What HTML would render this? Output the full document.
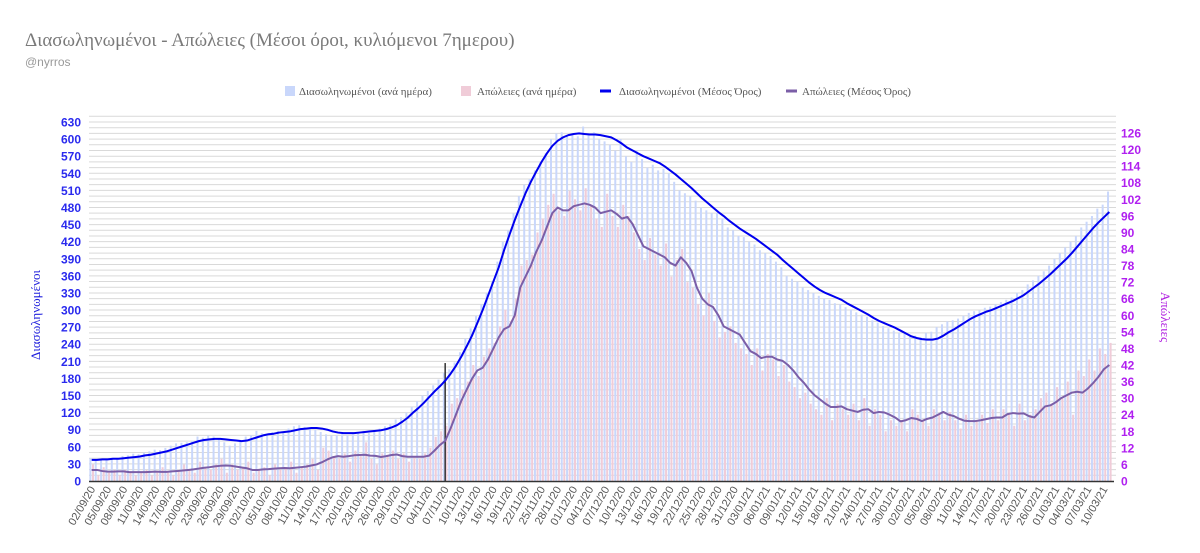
<!DOCTYPE html>
<html><head><meta charset="utf-8">
<style>
html,body{margin:0;padding:0;background:#fff;}
body{width:1200px;height:553px;overflow:hidden;position:relative;}
svg{position:absolute;left:0;top:0;}
</style></head>
<body>
<svg id="chart" width="1200" height="553" viewBox="0 0 1200 553" xmlns="http://www.w3.org/2000/svg">
  <text x="25" y="46" font-family="Liberation Serif, serif" font-size="19" fill="#7a7a7a">Διασωληνωμένοι - Απώλειες (Μέσοι όροι, κυλιόμενοι 7ημερου)</text>
  <text x="25" y="66" font-family="Liberation Sans, sans-serif" font-size="12" fill="#999">@nyrros</text>
  <g font-family="Liberation Serif, serif" font-size="11" fill="#555">
    <g><rect x="285" y="86" width="10" height="10" fill="#c9d7fb"/><text x="299" y="95">Διασωληνωμένοι (ανά ημέρα)</text></g>
    <g><rect x="461" y="86" width="10" height="10" fill="#f0ccd8"/><text x="477" y="95">Απώλειες (ανά ημέρα)</text></g>
    <g><rect x="600" y="89.5" width="11" height="3" fill="#0000ee"/><text x="619" y="95">Διασωληνωμένοι (Μέσος Όρος)</text></g>
    <g><rect x="786" y="89.5" width="11" height="3" fill="#7b5ea7"/><text x="802" y="95">Απώλειες (Μέσος Όρος)</text></g>
  </g>
  <g id="grid"></g>
  <g id="bars"></g>
  <g id="lines"></g>
  <g id="axes"></g>
  <text transform="translate(40,315) rotate(-90)" text-anchor="middle" font-family="Liberation Serif, serif" font-size="13" fill="#2222dd">Διασωληνωμένοι</text>
  <text transform="translate(1161,317) rotate(90)" text-anchor="middle" font-family="Liberation Serif, serif" font-size="13" fill="#b020e0">Απώλειες</text>
</svg>
<script>
const hospDaily = [40,38,36,39,41,40,44,45,48,47,
50,52,55,54,58,62,66,67,68,70,
78,76,80,78,74,68,62,66,72,78,
80,88,84,82,86,88,86,92,96,98,
95,92,90,86,82,80,80,82,80,82,
86,88,84,90,92,96,100,108,112,120,
130,140,150,158,168,178,190,196,208,226,
250,268,290,310,330,350,385,420,440,470,
500,520,530,545,560,575,600,610,612,605,
610,605,622,610,612,600,596,590,580,600,
570,560,580,565,550,555,545,548,540,525,
510,505,500,492,480,475,470,470,460,445,
440,430,428,420,415,405,400,395,385,375,
360,355,350,340,335,330,325,320,318,312,
310,305,300,296,292,288,282,278,272,268,
264,260,258,255,255,252,260,262,270,275,
280,282,285,290,295,298,300,304,306,310,
314,318,322,330,335,345,352,360,368,378,
390,400,410,420,430,445,455,465,478,485,
508];
const deathsDaily = [6,2,5,3,4,2,4,3,2,3,
4,2,3,5,3,2,4,6,4,3,
7,5,4,6,8,3,6,4,5,7,
3,4,5,2,6,4,5,7,3,5,
6,8,4,12,11,9,8,10,7,11,
9,14,8,6,10,9,11,8,10,7,
9,8,10,12,16,18,20,28,30,33,
36,42,38,45,48,50,56,62,58,66,
78,80,82,90,95,100,104,98,96,105,
102,98,106,100,95,92,104,96,92,100,
96,90,84,80,88,82,78,86,74,80,
84,72,70,64,60,68,58,52,54,56,
50,48,46,42,48,40,46,44,38,42,
36,34,30,32,28,26,24,30,22,28,
26,24,28,22,30,20,26,24,18,22,
20,22,18,26,24,22,20,26,24,22,
25,22,19,24,20,22,24,21,26,22,
26,24,20,28,22,24,26,30,32,28,
34,30,36,24,40,38,44,40,48,46,
50];
const hospAvg = [37,37,38,38,39,39,40,41,42,43,
45,46,48,50,52,55,58,61,64,67,
70,72,73,74,74,73,72,71,70,71,
74,77,80,82,83,85,86,87,89,91,
92,93,93,92,90,87,85,84,84,84,
85,86,87,88,89,91,94,98,104,111,
120,128,137,147,157,166,176,188,202,218,
236,255,277,300,325,350,375,405,432,458,
482,505,525,543,560,575,588,597,603,607,
609,610,609,608,608,607,605,603,598,592,
585,580,575,570,566,562,558,552,545,538,
530,522,514,505,496,488,480,472,465,457,
450,443,437,431,425,418,411,404,397,388,
380,372,364,356,348,341,335,330,326,322,
318,312,307,302,297,292,286,281,277,273,
269,264,259,254,251,249,248,248,250,255,
261,266,272,278,284,289,293,297,300,304,
308,312,316,321,326,333,340,347,355,363,
372,381,390,400,411,422,433,444,454,463,
472];
const deathsAvg = [4,4,3.6,3.4,3.4,3.5,3.5,3.2,3.2,3.2,
3.2,3.3,3.4,3.3,3.3,3.5,3.6,3.8,4,4.2,
4.5,4.8,5,5.3,5.5,5.6,5.5,5.2,4.9,4.6,
4,4,4.2,4.3,4.5,4.6,4.7,4.6,4.8,5,
5.2,5.6,6,6.8,7.8,8.6,9,8.8,9,9.3,
9.4,9.5,9.2,9.1,8.7,9,9.4,9.6,9,8.8,
8.8,8.8,8.8,9.2,11,13,14.5,19,24,29,
33,37,40,41,44,48,52,55,56,60,
70,74,78,83,87,92,97,99,98,98,
99.5,100,100.5,100,99,97,97.5,98,96.7,95,
95.6,93,89,85,84,83,82,81,79,78,
81,79,76,70,66,64,63,60,56,55,
54,53,50,47,46,44.5,45,45,44,43.5,
42,40,37.5,35.5,33,31,29.5,28,26.8,26.8,
27,26,25.5,25,25.8,26,24.6,25,24.8,24,
23,21.6,22,22.8,22.5,21.7,22.5,23,24,25,
24,23.5,22.5,21.8,21.7,21.7,22,22.4,22.8,23,
23,24.2,24.6,24.4,24.5,23.5,23,25,27,27.4,
28.5,30,31,32,32.3,32,33.5,35.5,37.8,40.5,
42];
const leftTicks = [0,30,60,90,120,150,180,210,240,270,300,330,360,390,420,450,480,510,540,570,600,630];
const rightTicks = [0,6,12,18,24,30,36,42,48,54,60,66,72,78,84,90,96,102,108,114,120,126];
const startDate = [2020, 8, 2];
const markerIndex = 66;
const markerValue = 207;

const NS = "http://www.w3.org/2000/svg";
const X0 = 89, X1 = 1112, Y0 = 481;
const n = hospDaily.length;
const slot = (X1 - X0) / n;
function xs(i){ return X0 + (i + 0.5) * slot; }
function yL(v){ return Y0 - v * (359 / 630); }
function yR(v){ return Y0 - v * (348 / 126); }
function mk(tag, attrs, parent){
  const e = document.createElementNS(NS, tag);
  for (const k in attrs) e.setAttribute(k, attrs[k]);
  parent.appendChild(e);
  return e;
}
const grid = document.getElementById('grid');
for (let v = 10; v <= 640; v += 10) {
  const g = mk('line', {x1: X0, x2: X1 + 4, y1: yL(v), y2: yL(v), stroke: '#d9d9d9', 'stroke-width': 1}, grid);
  
  
}
const bars = document.getElementById('bars');
for (let i = 0; i < n; i++) {
  const cx = xs(i);
  const hb = mk('rect', {x: cx - 2.3, y: yL(hospDaily[i]), width: 2, height: Y0 - yL(hospDaily[i]), fill: '#c9d7fb'}, bars);
  
  
  const db = mk('rect', {x: cx + 0.3, y: yR(deathsDaily[i]), width: 2, height: Y0 - yR(deathsDaily[i]), fill: '#f0ccd8'}, bars);
  
  
}
const lines = document.getElementById('lines');
const mline = mk('line', {x1: xs(markerIndex), x2: xs(markerIndex), y1: Y0, y2: yL(markerValue), stroke: '#333', 'stroke-width': 1.5}, lines);


const pd = deathsAvg.map((v, i) => (i ? 'L' : 'M') + xs(i).toFixed(2) + ' ' + yR(v).toFixed(2)).join(' ');
const dl = mk('path', {d: pd, fill: 'none', stroke: '#7b5ea7', 'stroke-width': 2, 'stroke-linejoin': 'round'}, lines);


const ph = hospAvg.map((v, i) => (i ? 'L' : 'M') + xs(i).toFixed(2) + ' ' + yL(v).toFixed(2)).join(' ');
const hl = mk('path', {d: ph, fill: 'none', stroke: '#0000ee', 'stroke-width': 2, 'stroke-linejoin': 'round'}, lines);



const axes = document.getElementById('axes');
const base = mk('line', {x1: X0, x2: X1 + 2, y1: Y0 + 0.5, y2: Y0 + 0.5, stroke: '#333', 'stroke-width': 1.5}, axes);


leftTicks.forEach(v => {
  const t = mk('text', {x: 81, y: yL(v) + 4.5, 'text-anchor': 'end', 'font-family': 'Liberation Sans, sans-serif', 'font-size': 12, 'font-weight': 'bold', fill: '#2a2aee'}, axes);
  t.textContent = v;
  
  
});
rightTicks.forEach(v => {
  const t = mk('text', {x: 1121, y: yR(v) + 4.5, 'text-anchor': 'start', 'font-family': 'Liberation Sans, sans-serif', 'font-size': 12, 'font-weight': 'bold', fill: '#b020f0'}, axes);
  t.textContent = v;
  
  
});
const d0 = new Date(startDate[0], startDate[1], startDate[2]);
function pad(v){ return (v < 10 ? '0' : '') + v; }
for (let i = 0; i < n; i += 3) {
  const d = new Date(d0.getTime()); d.setDate(d.getDate() + i);
  const lbl = pad(d.getDate()) + '/' + pad(d.getMonth() + 1) + '/' + String(d.getFullYear()).slice(2);
  const x = xs(i) + 4, y = 489;
  const t = mk('text', {x: x, y: y, 'text-anchor': 'end', transform: 'rotate(-60 ' + x + ' ' + y + ')', 'font-family': 'Liberation Sans, sans-serif', 'font-size': 11, fill: '#555'}, axes);
  t.textContent = lbl;
  
  
}
</script>
</body></html>
